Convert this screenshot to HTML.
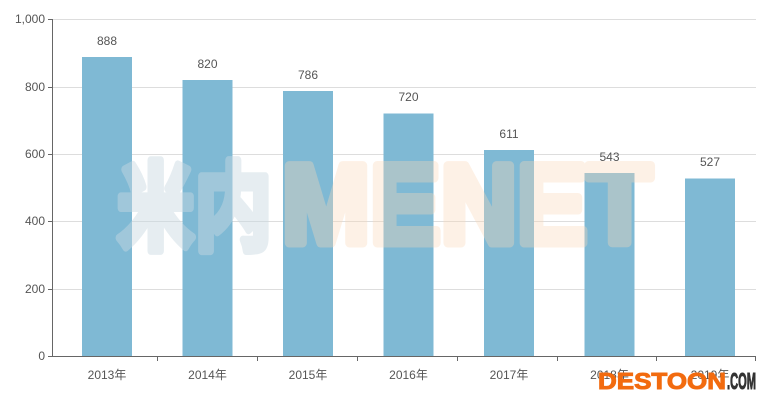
<!DOCTYPE html>
<html><head><meta charset="utf-8"><style>
html,body{margin:0;padding:0;background:#fff;width:768px;height:403px;overflow:hidden}
</style></head><body>
<svg width="768" height="403" xmlns="http://www.w3.org/2000/svg" style="font-family:'Liberation Sans','Noto Sans CJK SC',sans-serif">
<g stroke="#ddd" stroke-width="1">
<line x1="52" x2="756" y1="19.5" y2="19.5"/>
<line x1="52" x2="756" y1="87.5" y2="87.5"/>
<line x1="52" x2="756" y1="154.5" y2="154.5"/>
<line x1="52" x2="756" y1="221.5" y2="221.5"/>
<line x1="52" x2="756" y1="289.5" y2="289.5"/>
</g>
<g fill="#7fb9d4">
<rect x="82" y="57" width="50" height="299"/>
<rect x="182.5" y="80" width="50" height="276"/>
<rect x="283" y="91" width="50" height="265"/>
<rect x="383.5" y="113.5" width="50" height="242.5"/>
<rect x="484" y="150" width="50" height="206"/>
<rect x="584.5" y="173" width="50" height="183"/>
<rect x="685" y="178.5" width="50" height="177.5"/>
</g>
<g opacity="0.45">
<text x="117" y="242" font-size="96" font-weight="bold" fill="#c8d9e2" stroke="#c8d9e2" stroke-width="8" stroke-linejoin="round" font-family="'Noto Sans CJK SC',sans-serif" textLength="155" lengthAdjust="spacingAndGlyphs">米内</text>
</g>
<g opacity="0.35">
<text x="282" y="243" font-size="112" font-weight="bold" fill="#fbd9b8" stroke="#fbd9b8" stroke-width="9" stroke-linejoin="round" textLength="370" lengthAdjust="spacingAndGlyphs">MENET</text>
</g>
<g font-size="12" fill="#555" text-anchor="middle">
<text x="107" y="45">888</text>
<text x="207.5" y="68">820</text>
<text x="308" y="79">786</text>
<text x="408.5" y="101">720</text>
<text x="509" y="138">611</text>
<text x="609.5" y="161">543</text>
<text x="710" y="166">527</text>
</g>
<g stroke="#666" stroke-width="1">
<line x1="52.5" x2="52.5" y1="19" y2="357"/>
<line x1="52" x2="756" y1="356.5" y2="356.5"/>
<line x1="48" x2="52" y1="19.5" y2="19.5"/>
<line x1="48" x2="52" y1="87.5" y2="87.5"/>
<line x1="48" x2="52" y1="154.5" y2="154.5"/>
<line x1="48" x2="52" y1="221.5" y2="221.5"/>
<line x1="48" x2="52" y1="289.5" y2="289.5"/>
<line x1="48" x2="52" y1="356.5" y2="356.5"/>
<line x1="157.5" x2="157.5" y1="356" y2="361"/>
<line x1="257.5" x2="257.5" y1="356" y2="361"/>
<line x1="357.5" x2="357.5" y1="356" y2="361"/>
<line x1="457.5" x2="457.5" y1="356" y2="361"/>
<line x1="557.5" x2="557.5" y1="356" y2="361"/>
<line x1="656.5" x2="656.5" y1="356" y2="361"/>
<line x1="755.5" x2="755.5" y1="356" y2="361"/>
</g>
<g font-size="12" fill="#555" text-anchor="end">
<text x="45" y="23">1,000</text>
<text x="45" y="91">800</text>
<text x="45" y="158">600</text>
<text x="45" y="225">400</text>
<text x="45" y="293">200</text>
<text x="45" y="360">0</text>
</g>
<g font-size="12" fill="#555" text-anchor="middle">
<text x="107" y="379">2013年</text>
<text x="207.5" y="379">2014年</text>
<text x="308" y="379">2015年</text>
<text x="408.5" y="379">2016年</text>
<text x="509" y="379">2017年</text>
<text x="609.5" y="379">2018年</text>
<text x="710" y="379">2019年</text>
</g>
<text x="598" y="389" font-size="23" font-weight="bold" fill="#f26b0f" stroke="#f26b0f" stroke-width="1" textLength="128" lengthAdjust="spacingAndGlyphs">DESTOON</text>
<text x="727" y="389" font-size="23" font-weight="bold" fill="#333" stroke="#333" stroke-width="1" textLength="29" lengthAdjust="spacingAndGlyphs">.COM</text>
</svg>
</body></html>
